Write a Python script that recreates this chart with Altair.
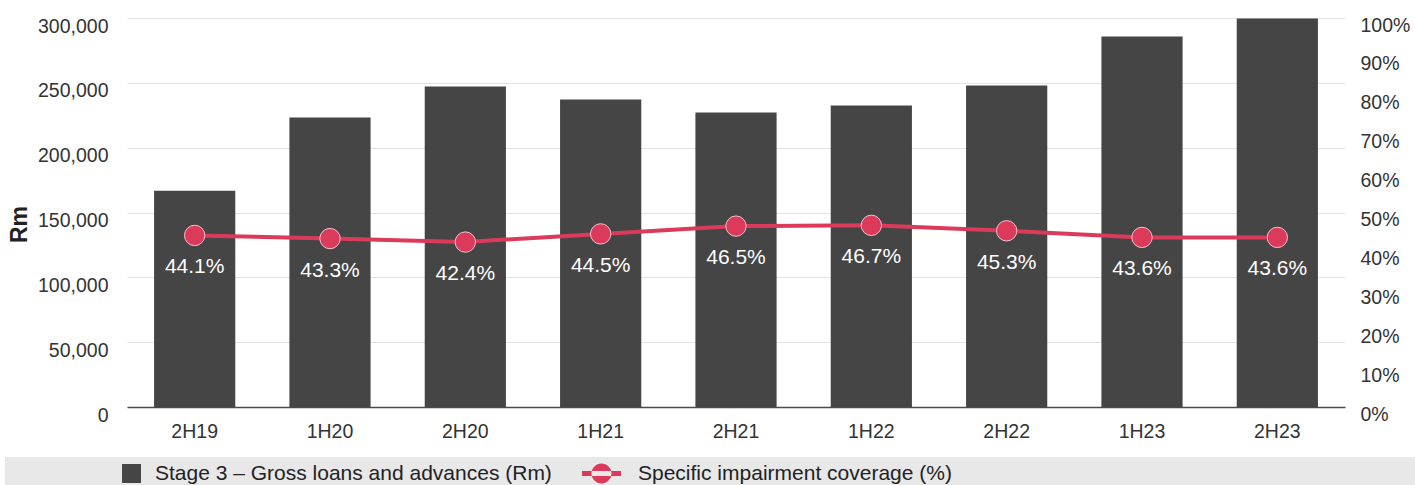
import altair as alt
import pandas as pd

categories = ["2H19", "1H20", "2H20", "1H21", "2H21", "1H22", "2H22", "1H23", "2H23"]
loans_rm = [166800, 223200, 247100, 237100, 227100, 232500, 247900, 285800, 299700]
coverage_pct = [44.1, 43.3, 42.4, 44.5, 46.5, 46.7, 45.3, 43.6, 43.6]
bar_name = "Stage 3 \u2013 Gross loans and advances (Rm)"
line_name = "Specific impairment coverage (%)"
left_ticks = [0, 50000, 100000, 150000, 200000, 250000, 300000]
right_ticks = [0, 10, 20, 30, 40, 50, 60, 70, 80, 90, 100]

BAR = "#454545"
PINK = "#dc3a5b"
FONT = "Liberation Sans"
LEG_BG = "#e8e8e8"

df = pd.DataFrame({
    "period": categories,
    "loans": loans_rm,
    "pct": coverage_pct,
    "bar_series": [bar_name] * len(categories),
    "line_series": [line_name] * len(categories),
})

x_enc = alt.X(
    "period:N", sort=categories, title=None,
    scale=alt.Scale(paddingInner=0.4, paddingOuter=0.2),
    axis=alt.Axis(labelAngle=0, domain=True, domainColor="#4a4a4a", domainWidth=1.5,
                  ticks=False, grid=False, labelPadding=15, labelFontSize=19.5,
                  labelColor="#333333", labelFont=FONT),
)

base = alt.Chart(df)

# legend symbols: the visible shape plus an empty zero-length segment that
# stretches the grey legend band sideways
square_path = "M-1,-1 L1,-1 L1,1 L-1,1 Z M45.6,0 L45.6,0"
line_dot_path = ("M-1.95,-0.25 L1.95,-0.25 L1.95,0.25 L-1.95,0.25 Z "
                 "M-1,0 A1,1 0 1,0 1,0 A1,1 0 1,0 -1,0 Z M83,0 L83,0")

bars = base.mark_bar(stroke=None).encode(
    x=x_enc,
    y=alt.Y("loans:Q", scale=alt.Scale(domain=[0, 300000], nice=False),
            axis=alt.Axis(orient="left", values=left_ticks, format=",.0f", grid=True,
                          gridColor="#e4e4e4", gridWidth=1, domain=False, ticks=False,
                          labelPadding=19, labelFontSize=19.5, labelColor="#333333",
                          labelFont=FONT, labelOffset=8,
                          title="Rm", titleFont=FONT, titleFontSize=23, titleFontWeight="bold",
                          titleColor="#222222", titleX=-96, titleY=206, titleAngle=270,
                          titleBaseline="bottom", titleAlign="center")),
    color=alt.Color("bar_series:N",
                    scale=alt.Scale(domain=[bar_name], range=[BAR]),
                    legend=alt.Legend(orient="none", legendX=-122, legendY=439,
                                      direction="horizontal", fillColor=LEG_BG, padding=6,
                                      title=" ", titleOrient="left", titleFontSize=1,
                                      titlePadding=110, symbolType=square_path, symbolSize=361,
                                      symbolStrokeWidth=0, labelOffset=13, labelFontSize=21,
                                      labelFont=FONT, labelColor="#222222", labelLimit=1000)),
)

y_pct = alt.Y("pct:Q", scale=alt.Scale(domain=[0, 100], nice=False), axis=None)

line = base.mark_line(color=PINK, strokeWidth=4).encode(
    x=x_enc,
    y=alt.Y("pct:Q", scale=alt.Scale(domain=[0, 100], nice=False),
            axis=alt.Axis(orient="right", values=right_ticks, labelExpr="datum.value + '%'",
                          grid=False, domain=False, ticks=False, labelPadding=15,
                          labelFontSize=19.5, labelColor="#333333", labelFont=FONT,
                          labelOffset=7, title=None)),
)

points = base.mark_circle(size=415, opacity=1, stroke="#f6c3cc", strokeWidth=1).encode(
    x=x_enc,
    y=y_pct,
    color=alt.Color("line_series:N",
                    scale=alt.Scale(domain=[line_name], range=[PINK]),
                    legend=alt.Legend(orient="none", legendX=433, legendY=439,
                                      direction="horizontal", fillColor=LEG_BG, padding=6,
                                      title=" ", titleOrient="left", titleFontSize=1,
                                      titlePadding=25, symbolType=line_dot_path, symbolSize=400,
                                      symbolStrokeWidth=0, labelOffset=26, labelFontSize=21,
                                      labelFont=FONT, labelColor="#222222", labelLimit=1000)),
)

labels = base.transform_calculate(
    lbl="format(datum.pct, '.1f') + '%'"
).mark_text(color="white", fontSize=21, font=FONT, dy=32).encode(
    x=x_enc,
    y=y_pct,
    text="lbl:N",
)

chart = alt.layer(bars, line, points, labels).resolve_scale(
    y="independent", color="independent"
).properties(
    width=1218, height=389,
    autosize=alt.AutoSizeParams(type="none"),
    padding={"left": 127, "top": 18, "right": 70, "bottom": 78},
).configure_view(stroke=None)

chart.save("out.html", embed_options={"renderer": "svg", "actions": False})
